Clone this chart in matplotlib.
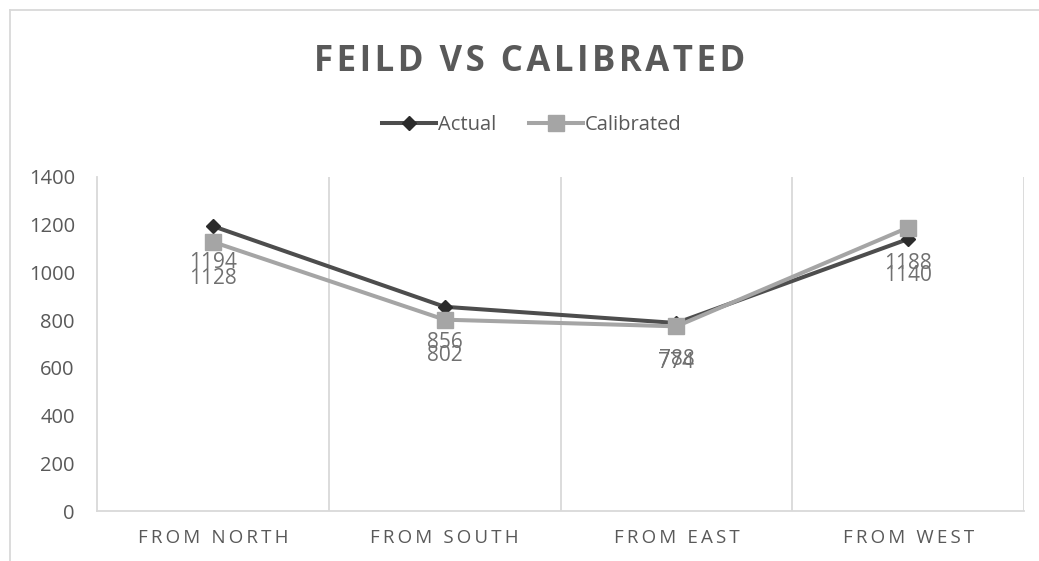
import matplotlib
matplotlib.use("Agg")
import matplotlib.pyplot as plt
from matplotlib.lines import Line2D

plt.rcParams["font.family"] = ["Open Sans", "DejaVu Sans"]

# data
categories = ["FROM NORTH", "FROM SOUTH", "FROM EAST", "FROM WEST"]
actual = [1194, 856, 788, 1140]
calibrated = [1128, 802, 774, 1188]
yticks = [0, 200, 400, 600, 800, 1000, 1200, 1400]

TXT = "#595959"
GRID = "#D9D9D9"


def spaced(s, sep="\u2009"):
    # fake letter spacing like the office chart
    return sep.join(list(s))


fig = plt.figure(figsize=(10.39, 5.61), dpi=100)
ax = fig.add_axes([0.0934, 0.0891, 0.8922, 0.5954])

x = list(range(len(categories)))
ax.plot(x, actual, color="#4D4D4D", lw=2.9, marker="D", ms=7.5,
        mfc="#2B2B2B", mec="#2B2B2B", label="Actual", zorder=3)
ax.plot(x, calibrated, color="#A5A5A5", lw=2.9, marker="s", ms=11,
        mfc="#A5A5A5", mec="#A5A5A5", label="Calibrated", zorder=4)

# data labels below points
for xi, v in zip(x, actual):
    ax.annotate(str(v), (xi, v), xytext=(0, -26), textcoords="offset points",
                ha="center", va="center", fontsize=15, color="#707070", zorder=5)
for xi, v in zip(x, calibrated):
    ax.annotate(str(v), (xi, v), xytext=(0, -26), textcoords="offset points",
                ha="center", va="center", fontsize=15, color="#707070", zorder=5)

ax.set_xlim(-0.5, len(categories) - 0.5)
ax.set_ylim(0, 1400)
ax.set_yticks(yticks)
ax.set_yticklabels([str(t) for t in yticks], fontsize=14.5, color=TXT)
ax.set_xticks(x)
ax.set_xticklabels([spaced(c) for c in categories], fontsize=13.5, color=TXT)
ax.tick_params(axis="both", length=0)
ax.tick_params(axis="y", pad=16)
ax.tick_params(axis="x", pad=13)

# vertical separators between categories
for b in [0.5, 1.5, 2.5, 3.5]:
    ax.axvline(b, color=GRID, lw=1.3, zorder=1)
for side in ["top", "right"]:
    ax.spines[side].set_visible(False)
for side in ["left", "bottom"]:
    ax.spines[side].set_color(GRID)
    ax.spines[side].set_linewidth(1.3)

fig.text(0.5096, 0.89, spaced("FEILD VS CALIBRATED", "\u200a"), ha="center", va="center",
         fontsize=25, fontweight="bold", color=TXT)

fig.legend(loc="center", bbox_to_anchor=(0.512, 0.777), ncol=2, frameon=False,
           fontsize=14.5, handlelength=2.7, handletextpad=0.1, columnspacing=1.6,
           labelcolor=TXT)

# chart border (cropped on right/bottom)
fig.add_artist(Line2D([0.0096, 1.0], [0.982, 0.982], color=GRID, lw=1.3))
fig.add_artist(Line2D([0.0096, 0.0096], [0.0, 0.982], color=GRID, lw=1.3))

fig.savefig("out.png", dpi=100)
